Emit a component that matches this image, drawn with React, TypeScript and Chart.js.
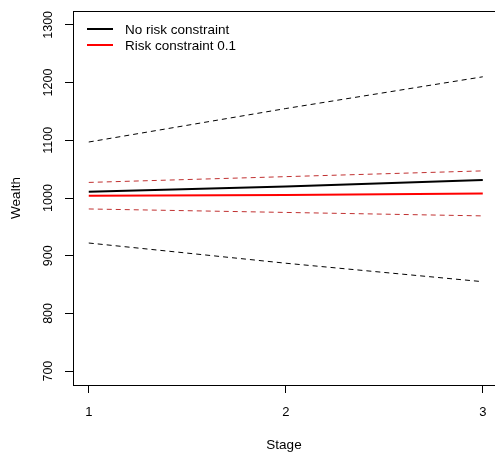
import { useEffect, useRef } from "react";
import { Chart, registerables } from "chart.js";

Chart.register(...registerables);

const stages = [1, 2, 3];
const stageTicks = [1, 2, 3];
const wealthTicks = [700, 800, 900, 1000, 1100, 1200, 1300];

const noRiskMean = [1011, 1020, 1031];
const noRiskUpper = [1097, 1155, 1210];
const noRiskLower = [922, 887, 855];

const riskMean = [1004, 1005, 1008];
const riskUpper = [1027, 1037, 1047];
const riskLower = [981, 975, 969];

const legendLabels = ["No risk constraint", "Risk constraint 0.1"];

const FONT = "'Liberation Sans', Arial, sans-serif";

export default function App() {
  const ref = useRef<HTMLCanvasElement>(null);

  useEffect(() => {
    if (!ref.current) return;
    const pts = (ys: number[]) => stages.map((x, i) => ({ x, y: ys[i] }));

    const boxPlugin = {
      id: "boxTop",
      afterDraw(chart: any) {
        const { ctx, chartArea } = chart;
        ctx.save();
        ctx.strokeStyle = "#000";
        ctx.lineWidth = 1;
        ctx.beginPath();
        ctx.moveTo(chartArea.left, Math.round(chartArea.top) + 0.5);
        ctx.lineTo(chartArea.right, Math.round(chartArea.top) + 0.5);
        ctx.stroke();
        ctx.restore();
      },
    };

    const legendPlugin = {
      id: "rLegend",
      afterDraw(chart: any) {
        const { ctx, chartArea } = chart;
        const entries = [chart.data.datasets[0], chart.data.datasets[3]];
        ctx.save();
        ctx.font = `13.5px ${FONT}`;
        ctx.textBaseline = "middle";
        ctx.fillStyle = "#000";
        entries.forEach((ds: any, i: number) => {
          const y = chartArea.top + 18 + i * 16;
          ctx.strokeStyle = ds.borderColor;
          ctx.lineWidth = 2;
          ctx.setLineDash([]);
          ctx.beginPath();
          ctx.moveTo(chartArea.left + 14, y);
          ctx.lineTo(chartArea.left + 40, y);
          ctx.stroke();
          ctx.fillText(legendLabels[i], chartArea.left + 52, y + 1);
        });
        ctx.restore();
      },
    };

    const solid = (data: number[], color: string) => ({
      data: pts(data),
      borderColor: color,
      borderWidth: 2,
      pointRadius: 0,
      tension: 0,
      fill: false,
    });
    const dashed = (data: number[], color: string) => ({
      data: pts(data),
      borderColor: color,
      borderWidth: 1,
      borderDash: [5, 4],
      pointRadius: 0,
      tension: 0,
      fill: false,
    });

    const chart = new Chart(ref.current, {
      type: "line",
      data: {
        datasets: [
          { label: legendLabels[0], ...solid(noRiskMean, "#000000") },
          { label: "upper", ...dashed(noRiskUpper, "#000000") },
          { label: "lower", ...dashed(noRiskLower, "#000000") },
          { label: legendLabels[1], ...solid(riskMean, "#ff0000") },
          { label: "upper r", ...dashed(riskUpper, "#c03030") },
          { label: "lower r", ...dashed(riskLower, "#c03030") },
        ] as any,
      },
      options: {
        animation: false,
        responsive: false,
        devicePixelRatio: 1,
        layout: { padding: { top: 11, left: 0, right: 0, bottom: 0 } },
        plugins: {
          legend: { display: false },
          tooltip: { enabled: false },
        },
        scales: {
          x: {
            type: "linear",
            min: 0.92,
            max: 3.062,
            afterBuildTicks: (s: any) => {
              s.ticks = stageTicks.map((v) => ({ value: v }));
            },
            afterFit: (s: any) => {
              s.height = 68;
              s.paddingLeft = 0;
              s.paddingRight = 0;
            },
            grid: {
              drawOnChartArea: false,
              drawTicks: true,
              tickLength: 8,
              color: "#000",
              lineWidth: 1,
            },
            border: { display: true, color: "#000", width: 1 },
            ticks: {
              color: "#000",
              font: { family: FONT, size: 13 },
              padding: 12,
              autoSkip: false,
              maxRotation: 0,
              minRotation: 0,
              callback: (v: any) => String(v),
            },
            title: {
              display: true,
              text: "Stage",
              color: "#000",
              font: { family: FONT, size: 13.5 },
              padding: { top: 0, bottom: 0 },
            },
          },
          y: {
            type: "linear",
            min: 676,
            max: 1324,
            afterBuildTicks: (s: any) => {
              s.ticks = wealthTicks.map((v) => ({ value: v }));
            },
            afterFit: (s: any) => {
              s.width = 73;
              s.paddingTop = 0;
              s.paddingBottom = 0;
            },
            grid: {
              drawOnChartArea: false,
              drawTicks: true,
              tickLength: 8,
              color: "#000",
              lineWidth: 1,
            },
            border: { display: true, color: "#000", width: 1 },
            ticks: {
              color: "#000",
              font: { family: FONT, size: 12.5 },
              padding: 3,
              crossAlign: "center",
              autoSkip: false,
              minRotation: 90,
              maxRotation: 90,
              callback: (v: any) => String(v),
            },
            title: {
              display: true,
              text: "Wealth",
              color: "#000",
              font: { family: FONT, size: 13.5 },
              padding: { top: 8, bottom: 0 },
            },
          },
        },
      } as any,
      plugins: [boxPlugin, legendPlugin],
    });

    return () => chart.destroy();
  }, []);

  return (
    <div style={{ position: "fixed", left: 0, top: 0, background: "#fff" }}>
      <canvas ref={ref} width={495} height={453} />
    </div>
  );
}
